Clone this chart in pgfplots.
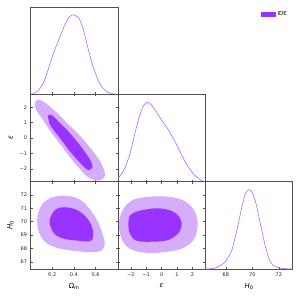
\documentclass[border=0pt]{standalone}
\usepackage{fontspec}
\setmainfont{DejaVu Sans}
\usepackage{pgfplots}
\pgfplotsset{compat=1.18}
\definecolor{cin}{RGB}{153,51,255}
\definecolor{cout}{RGB}{214,173,250}
\definecolor{cline}{RGB}{178,102,255}
\definecolor{fr}{RGB}{80,80,80}
\pgfplotsset{
  tri/.style={scale only axis, width=87.4pt, height=87.3pt, anchor=south west,
    axis line style={fr, line width=0.6pt}, tick style={fr, line width=0.5pt},
    major tick length=2pt, tick align=inside,
    ticklabel style={font=\fontsize{5}{6}\selectfont, text=black!85},
    label style={font=\fontsize{7}{8}\selectfont},
    xticklabels={}, yticklabels={}, clip=true},
  oned/.style={tri, ymin=0, ymax=1.1, ytick=\empty, xtick pos=bottom},
  omx/.style={xmin=0, xmax=0.805, xtick={0.2,0.4,0.6}},
  epsx/.style={xmin=-2.84, xmax=2.84, xtick={-2,-1,0,1,2}},
  epsy/.style={ymin=-2.84, ymax=2.84, ytick={-2,-1,0,1,2}},
  hx/.style={xmin=66.45, xmax=73.05, xtick={68,70,72}},
  hy/.style={ymin=66.46, ymax=72.99, ytick={67,68,69,70,71,72}},
  l1/.style={cline, line width=0.6pt, smooth, tension=0.5},
  fo/.style={fill=cout, draw=none, smooth cycle, tension=0.6},
  fi/.style={fill=cin, draw=none, smooth cycle, tension=0.6},
}
\begin{document}
\begin{tikzpicture}
\useasboundingbox (0,0) rectangle (300pt,300pt);
% row1 col1: Omega_m 1D
\begin{axis}[oned, omx, at={(30.5pt,205.7pt)}]
\addplot[l1] coordinates {(0.0,0.0)(0.03,0.01)(0.068,0.042)(0.10,0.10)(0.13,0.18)(0.16,0.30)(0.19,0.43)(0.22,0.55)(0.253,0.66)(0.285,0.77)(0.315,0.87)(0.34,0.94)(0.361,0.98)(0.385,1.0)(0.40,1.0)(0.418,0.99)(0.438,0.97)(0.46,0.92)(0.484,0.83)(0.507,0.71)(0.53,0.58)(0.553,0.46)(0.576,0.35)(0.60,0.26)(0.622,0.18)(0.65,0.11)(0.684,0.054)(0.715,0.025)(0.745,0.01)(0.78,0.002)(0.805,0.0)};
\end{axis}
% row2 col1: Omega_m vs eps
\begin{axis}[tri, omx, epsy, at={(30.5pt,118.3pt)}, yticklabels={−2,−1,0,1,2}, ylabel={\textit{ε}}]
\addplot[fo] coordinates {(0.053,2.43)(0.038,2.1)(0.06,1.75)(0.099,1.34)(0.145,0.85)(0.19,0.37)(0.237,-0.06)(0.284,-0.49)(0.33,-0.93)(0.376,-1.36)(0.422,-1.75)(0.468,-2.12)(0.505,-2.4)(0.545,-2.62)(0.60,-2.76)(0.65,-2.72)(0.684,-2.5)(0.684,-2.23)(0.665,-1.85)(0.638,-1.47)(0.60,-1.09)(0.56,-0.71)(0.515,-0.33)(0.468,0.05)(0.41,0.48)(0.345,0.91)(0.285,1.35)(0.222,1.78)(0.17,2.1)(0.13,2.32)(0.084,2.49)};
\addplot[fi] coordinates {(0.161,1.45)(0.166,1.2)(0.176,0.91)(0.21,0.55)(0.253,0.16)(0.30,-0.27)(0.345,-0.71)(0.39,-1.09)(0.438,-1.47)(0.48,-1.78)(0.514,-2.01)(0.545,-2.08)(0.567,-1.95)(0.567,-1.69)(0.545,-1.37)(0.514,-1.04)(0.47,-0.6)(0.422,-0.17)(0.37,0.26)(0.315,0.69)(0.265,1.02)(0.222,1.34)(0.186,1.52)};
\end{axis}
% row3 col1: Omega_m vs H0
\begin{axis}[tri, omx, hy, at={(30.5pt,31pt)}, xticklabels={0.2,0.4,0.6}, yticklabels={67,68,69,70,71,72}, xlabel={Ω\textsubscript{m}}, ylabel={\textit{H}\textsubscript{0}}]
\addplot[fo] coordinates {(0.284,71.94)(0.407,71.83)(0.48,71.5)(0.53,71.08)(0.607,70.2)(0.659,69.2)(0.684,68.33)(0.653,67.83)(0.56,67.71)(0.438,67.79)(0.284,67.96)(0.16,68.33)(0.084,69.08)(0.062,70.2)(0.099,71.2)(0.176,71.75)};
\addplot[fi] coordinates {(0.315,71.08)(0.422,70.9)(0.514,70.33)(0.567,69.58)(0.576,68.83)(0.545,68.53)(0.438,68.58)(0.315,68.71)(0.222,69.08)(0.176,69.95)(0.207,70.7)(0.253,71.0)};
\end{axis}
% row2 col2: eps 1D
\begin{axis}[oned, epsx, at={(117.9pt,118.3pt)}]
\addplot[l1] coordinates {(-2.88,0.025)(-2.7,0.07)(-2.47,0.14)(-2.25,0.24)(-2.03,0.37)(-1.87,0.50)(-1.71,0.63)(-1.55,0.75)(-1.38,0.86)(-1.17,0.96)(-0.95,1.0)(-0.73,0.98)(-0.41,0.90)(0.02,0.77)(0.45,0.65)(0.89,0.50)(1.32,0.33)(1.75,0.18)(2.19,0.076)(2.62,0.013)(2.84,0.0)};
\end{axis}
% row3 col2: eps vs H0
\begin{axis}[tri, epsx, hy, at={(117.9pt,31pt)}, xticklabels={−2,−1,0,1,2}, xlabel={\textit{ε}}]
\addplot[fo] coordinates {(-1.51,71.75)(0,71.9)(1.3,71.65)(2.06,70.95)(2.34,69.95)(2.17,68.83)(1.52,68.09)(0.43,67.76)(-0.86,67.66)(-1.95,67.91)(-2.55,68.58)(-2.77,69.7)(-2.6,70.7)(-2.16,71.4)};
\addplot[fi] coordinates {(-1.95,70.58)(-0.86,70.95)(0.22,70.95)(0.97,70.58)(1.3,69.95)(1.13,69.2)(0.43,68.63)(-0.65,68.5)(-1.62,68.58)(-2.05,69.08)(-2.16,69.83)};
\end{axis}
% row3 col3: H0 1D
\begin{axis}[oned, hx, at={(205.3pt,31pt)}, xticklabels={68,70,72}, xlabel={\textit{H}\textsubscript{0}}]
\addplot[l1] coordinates {(66.5,0)(67.0,0.005)(67.32,0.02)(67.65,0.05)(67.95,0.09)(68.2,0.15)(68.46,0.24)(68.65,0.36)(68.84,0.49)(69.03,0.64)(69.22,0.79)(69.4,0.91)(69.52,0.96)(69.75,1.0)(69.98,0.97)(70.15,0.90)(70.3,0.81)(70.48,0.67)(70.66,0.53)(70.83,0.40)(70.99,0.28)(71.18,0.17)(71.37,0.09)(71.6,0.045)(71.88,0.02)(72.4,0.005)(73.0,0)};
\end{axis}
% legend
\begin{axis}[scale only axis, width=87.4pt, height=87.3pt, anchor=south west, at={(205.3pt,205.7pt)}, hide axis, xmin=0, xmax=1, ymin=0, ymax=1,
  legend style={draw=none, fill=none, at={(0.97,0.98)}, anchor=north east, font=\fontsize{5.5}{6.5}\selectfont, inner sep=1pt}]
\addlegendimage{legend image code/.code={\fill[cin] (0pt,-2pt) rectangle (14pt,2pt);}}
\addlegendentry{IDE}
\end{axis}
\end{tikzpicture}
\end{document}
